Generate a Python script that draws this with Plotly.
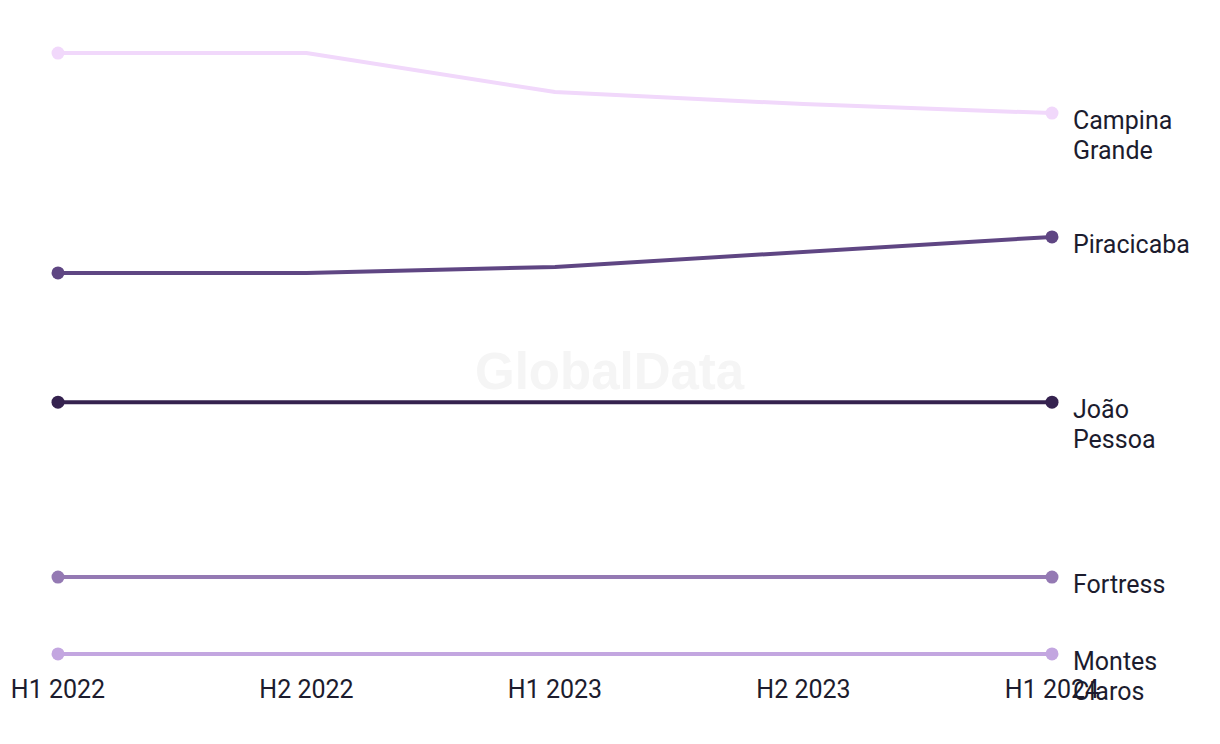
import plotly.graph_objects as go

periods = ["H1 2022", "H2 2022", "H1 2023", "H2 2023", "H1 2024"]
series_names = ["Campina Grande", "Piracicaba", "João Pessoa", "Fortress", "Montes Claros"]
label_lines = [["Campina", "Grande"], ["Piracicaba"], ["João", "Pessoa"], ["Fortress"], ["Montes", "Claros"]]
campina_grande = [100.0, 100.0, 93.5, 91.5, 90.0]
piracicaba = [63.4, 63.4, 64.4, 66.9, 69.4]
joao_pessoa = [41.9, 41.9, 41.9, 41.9, 41.9]
fortress = [12.8, 12.8, 12.8, 12.8, 12.8]
montes_claros = [0.0, 0.0, 0.0, 0.0, 0.0]
colors = ["#F1D8FB", "#5F4683", "#35224F", "#9479B3", "#C3A6E0"]

all_values = [campina_grande, piracicaba, joao_pessoa, fortress, montes_claros]

FONT = "Roboto, Arial, sans-serif"
TEXT = "#1C1C2E"

fig = go.Figure()
for name, vals, col in zip(series_names, all_values, colors):
    fig.add_trace(go.Scatter(
        x=periods, y=vals, mode="lines", name=name,
        line=dict(color=col, width=4), hoverinfo="skip", cliponaxis=False,
    ))
    fig.add_trace(go.Scatter(
        x=[periods[0], periods[-1]], y=[vals[0], vals[-1]], mode="markers",
        marker=dict(color=col, size=13), name=name, showlegend=False,
        cliponaxis=False,
    ))

annotations = [dict(
    text="<b>GlobalData</b>", x=0.5553, y=0.471, xref="paper", yref="paper",
    xanchor="center", yanchor="middle", showarrow=False,
    font=dict(family="Liberation Sans, Arial, sans-serif", size=51, color="#F5F5F5"),
)]
for lines, vals in zip(label_lines, all_values):
    txt = "<br>".join('<span style="font-size:25px">%s</span>' % l for l in lines)
    annotations.append(dict(
        text=txt, x=periods[-1], y=vals[-1], xref="x", yref="y",
        xanchor="left", yanchor="top", align="left", showarrow=False,
        xshift=19, yshift=9,
        font=dict(family=FONT, size=23, color=TEXT),
    ))

fig.update_layout(
    width=1220, height=744,
    margin=dict(l=58, r=168, t=35, b=72),
    paper_bgcolor="white", plot_bgcolor="white",
    showlegend=False,
    annotations=annotations,
    xaxis=dict(
        type="category", range=[0, 4], showgrid=False, zeroline=False,
        showline=False, ticks="", tickfont=dict(family=FONT, size=25, color=TEXT),
    ),
    yaxis=dict(
        range=[-3, 103], showgrid=False, zeroline=False, showline=False,
        showticklabels=False, ticks="",
    ),
)

fig.write_html("out.html")
